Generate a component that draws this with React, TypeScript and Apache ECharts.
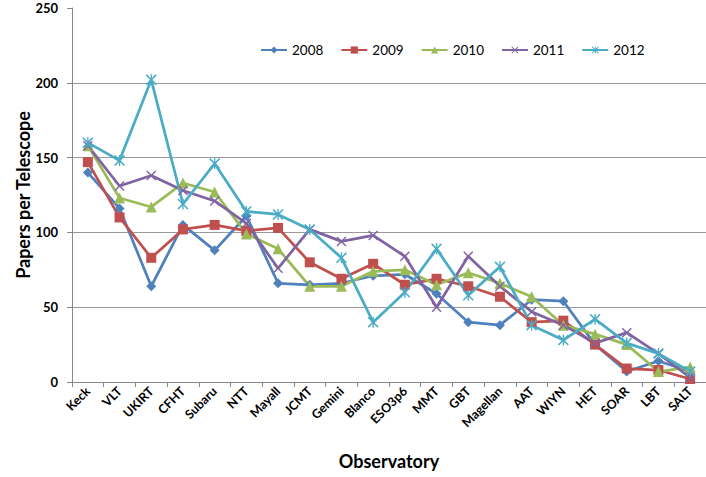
import React, { useEffect, useRef } from "react";
import * as echarts from "echarts";

const categories = ["Keck", "VLT", "UKIRT", "CFHT", "Subaru", "NTT", "Mayall", "JCMT", "Gemini", "Blanco", "ESO3p6", "MMT", "GBT", "Magellan", "AAT", "WIYN", "HET", "SOAR", "LBT", "SALT"];
const y2008 = [140, 116, 64, 105, 88, 111, 66, 65, 66, 71, 72, 59, 40, 38, 55, 54, 25, 7, 14, 7];
const y2009 = [147, 110, 83, 102, 105, 101, 103, 80, 69, 79, 65, 69, 64, 57, 40, 41, 25, 9, 8, 2];
const y2010 = [158, 123, 117, 133, 127, 99, 89, 64, 64, 74, 75, 65, 73, 66, 57, 38, 32, 25, 7, 10];
const y2011 = [158, 131, 138, 128, 121, 106, 76, 102, 94, 98, 84, 50, 84, 64, 47, 38, 26, 33, 19, 3];
const y2012 = [160, 148, 202, 119, 146, 114, 112, 102, 83, 40, 60, 89, 58, 77, 38, 28, 42, 26, 19, 7];
const seriesNames = ["2008", "2009", "2010", "2011", "2012"];
const yTicks = [0, 50, 100, 150, 200, 250];

const colors = ["#4F81BD", "#C0504D", "#9BBB59", "#8064A2", "#4BACC6"];
const xPath = "path://M1,0 L5,4 L9,0 L10,1 L6,5 L10,9 L9,10 L5,6 L1,10 L0,9 L4,5 L0,1 Z";
const starPath = "path://M1,0 L5,4 L9,0 L10,1 L6,5 L10,9 L9,10 L5,6 L1,10 L0,9 L4,5 L0,1 Z M4.4,0 L5.6,0 L5.6,10 L4.4,10 Z";
const symbols = ["diamond", "rect", "triangle", xPath, starPath];
const symbolSizes = [10, 10, 11, 10, 11];
const FONT = "Lato, 'Open Sans', sans-serif";

export default function App() {
  const ref = useRef<HTMLDivElement>(null);
  useEffect(() => {
    if (!ref.current) return;
    const chart = echarts.init(ref.current, null, { renderer: "svg" });
    const data = [y2008, y2009, y2010, y2011, y2012];
    chart.setOption({
      animation: false,
      backgroundColor: "#ffffff",
      textStyle: { fontFamily: FONT },
      legend: {
        left: 255,
        top: 38,
        itemWidth: 26,
        itemHeight: 9,
        itemGap: 17,
        textStyle: { fontSize: 13.5, color: "#000", fontFamily: FONT },
        data: seriesNames,
      },
      grid: { left: 72, right: -8, top: 8, bottom: 95, containLabel: false },
      xAxis: {
        type: "category",
        data: categories,
        boundaryGap: true,
        name: "Observatory",
        nameLocation: "middle",
        nameGap: 70,
        nameTextStyle: { fontSize: 18, fontWeight: "bold", color: "#000", fontFamily: FONT },
        axisLine: { lineStyle: { color: "#888", width: 1 } },
        axisTick: { show: true, alignWithLabel: false, length: 5, lineStyle: { color: "#888" } },
        axisLabel: { rotate: 45, fontSize: 12.5, fontWeight: "bold", color: "#000", margin: 7, interval: 0, fontFamily: FONT },
        splitLine: { show: false },
      },
      yAxis: {
        type: "value",
        min: yTicks[0],
        max: yTicks[yTicks.length - 1],
        interval: 50,
        name: "Papers per Telescope",
        nameLocation: "middle",
        nameGap: 40,
        nameMoveOverlap: false,
        nameTextStyle: { fontSize: 18, fontWeight: "bold", color: "#000", fontFamily: FONT },
        axisLine: { show: true, lineStyle: { color: "#888", width: 1 } },
        axisTick: { show: true, inside: false, length: 5, lineStyle: { color: "#888" } },
        axisLabel: { fontSize: 13, fontWeight: "bold", color: "#000", margin: 14, fontFamily: FONT },
        splitLine: { show: true, lineStyle: { color: ["#999", "#999", "#999", "#999", "#999", "transparent"], width: 1 } },
      },
      series: seriesNames.map((name, i) => ({
        name,
        type: "line",
        data: data[i],
        symbol: symbols[i],
        symbolSize: symbolSizes[i],
        showAllSymbol: true,
        lineStyle: { color: colors[i], width: 2.75 },
        itemStyle: { color: colors[i], borderWidth: 0 },
        emphasis: { disabled: true },
      })),
    });
    return () => chart.dispose();
  }, []);
  return <div ref={ref} style={{ width: 706, height: 477, position: "absolute", left: 0, top: 0 }} />;
}
